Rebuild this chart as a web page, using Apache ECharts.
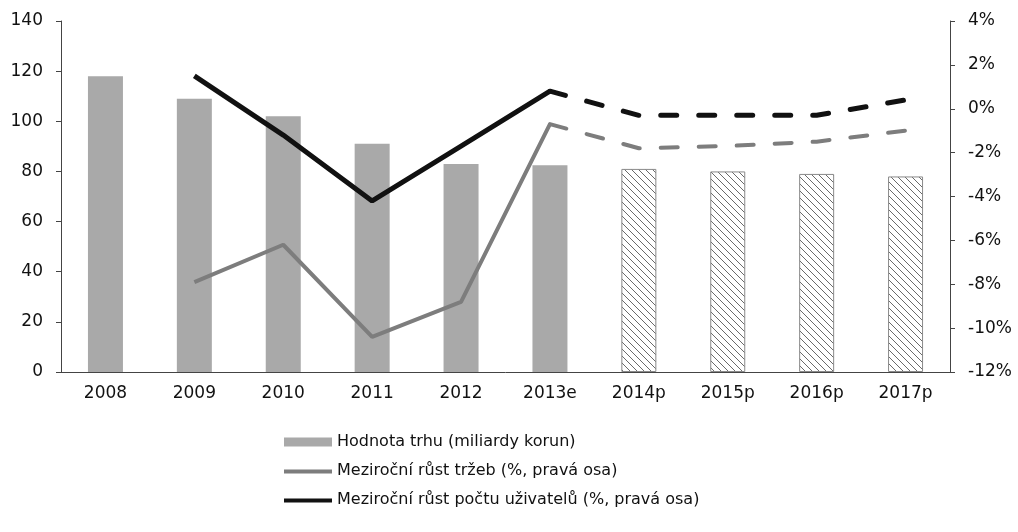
<!DOCTYPE html>
<html>
<head>
<meta charset="utf-8">
<script src="https://cdn.jsdelivr.net/npm/echarts@6/dist/echarts.min.js"></script>
<style>
  html, body { margin: 0; padding: 0; background: #fff; }
  #chart { width: 1018px; height: 532px; }
</style>
</head>
<body>
<div id="chart"></div>
<script>
var categories = ['2008', '2009', '2010', '2011', '2012', '2013e', '2014p', '2015p', '2016p', '2017p'];
var marketValue = [118, 109, 102, 91, 83, 82.5, 81, 80, 79, 78];
var salesGrowth = [null, -7.9, -6.2, -10.4, -8.8, -0.7, -1.8, -1.7, -1.5, -1.0];
var userGrowth = [null, 1.5, -1.2, -4.2, -1.7, 0.8, -0.3, -0.3, -0.3, 0.4];
var lastActual = 5;   // 2013e: lines turn dashed after it, bars hatched after it

var nameBar = 'Hodnota trhu (miliardy korun)';
var nameSales = 'Meziroční růst tržeb (%, pravá osa)';
var nameUsers = 'Meziroční růst počtu uživatelů (%, pravá osa)';

var barGray = '#a9a9a9';
var salesGray = '#7d7d7d';
var usersBlack = '#111';

// hatch pattern for forecast bars
var hatch = document.createElement('canvas');
hatch.width = 7;
hatch.height = 7;
var hc = hatch.getContext('2d');
hc.fillStyle = '#fff';
hc.fillRect(0, 0, 7, 7);
hc.strokeStyle = '#6a6a6a';
hc.lineWidth = 1;
hc.beginPath();
hc.moveTo(-1, -1);
hc.lineTo(8, 8);
hc.stroke();

var barData = marketValue.map(function (v, i) {
    if (i <= lastActual) return v;
    return {
        value: v,
        itemStyle: { color: { image: hatch, repeat: 'repeat' }, borderColor: '#8a8a8a', borderWidth: 1 }
    };
});

function solidPart(arr) {
    return arr.map(function (v, i) { return i <= lastActual ? v : null; });
}
function dashedPart(arr) {
    return arr.map(function (v, i) { return i >= lastActual ? v : null; });
}

// legend icons for the lines: a thin bar inside a 48x9 box (corner points keep the box size)
var thinLine = 'path://M0,0L0,0M0,3L48,3L48,7L0,7ZM48,9L48,9';

var font = 'DejaVu Sans';
var axisColor = '#444';

var myChart = echarts.init(document.getElementById('chart'));
var option = {
    animation: false,
    textStyle: { fontFamily: font, color: '#111' },
    grid: { left: 61, right: 68, top: 21, bottom: 160 },
    legend: {
        orient: 'vertical',
        left: 284,
        top: 434,
        padding: 0,
        itemWidth: 48,
        itemHeight: 9,
        itemGap: 13,
        textStyle: { fontFamily: font, fontSize: 16, color: '#111', lineHeight: 16 },
        data: [
            { name: nameBar, icon: 'rect', itemStyle: { color: barGray, borderWidth: 0 } },
            { name: nameSales, icon: thinLine, itemStyle: { color: salesGray, borderWidth: 0 } },
            { name: nameUsers, icon: thinLine, itemStyle: { color: usersBlack, borderWidth: 0 } }
        ]
    },
    xAxis: {
        type: 'category',
        data: categories,
        axisTick: { show: false },
        axisLine: { lineStyle: { color: axisColor, width: 1 } },
        axisLabel: { fontFamily: font, fontSize: 17, color: '#111', margin: 13 }
    },
    yAxis: [{
        type: 'value',
        min: 0,
        max: 140,
        interval: 20,
        splitLine: { show: false },
        axisLine: { show: true, lineStyle: { color: axisColor, width: 1 } },
        axisTick: { show: true, length: 5, lineStyle: { color: axisColor } },
        axisLabel: { fontFamily: font, fontSize: 17, color: '#111', margin: 18 }
    }, {
        type: 'value',
        position: 'right',
        min: -12,
        max: 4,
        interval: 2,
        splitLine: { show: false },
        axisLine: { show: true, lineStyle: { color: axisColor, width: 1 } },
        axisTick: { show: true, length: 5, lineStyle: { color: axisColor } },
        axisLabel: { fontFamily: font, fontSize: 17, color: '#111', margin: 18, formatter: '{value}%' }
    }],
    series: [{
        name: nameBar,
        type: 'bar',
        barWidth: 35,
        itemStyle: { color: barGray },
        data: barData
    }, {
        name: nameSales,
        type: 'line',
        yAxisIndex: 1,
        symbol: 'none',
        z: 3,
        itemStyle: { color: salesGray },
        lineStyle: { color: salesGray, width: 4 },
        data: solidPart(salesGrowth)
    }, {
        name: 'sales-forecast',
        type: 'line',
        yAxisIndex: 1,
        symbol: 'none',
        z: 3,
        itemStyle: { color: salesGray },
        lineStyle: { color: salesGray, width: 4, type: [17, 21], cap: 'round' },
        data: dashedPart(salesGrowth)
    }, {
        name: nameUsers,
        type: 'line',
        yAxisIndex: 1,
        symbol: 'none',
        z: 4,
        itemStyle: { color: usersBlack },
        lineStyle: { color: usersBlack, width: 5 },
        data: solidPart(userGrowth)
    }, {
        name: 'users-forecast',
        type: 'line',
        yAxisIndex: 1,
        symbol: 'none',
        z: 4,
        itemStyle: { color: usersBlack },
        lineStyle: { color: usersBlack, width: 5, type: [16, 22], cap: 'round' },
        data: dashedPart(userGrowth)
    }]
};
myChart.setOption(option);
</script>
</body>
</html>
